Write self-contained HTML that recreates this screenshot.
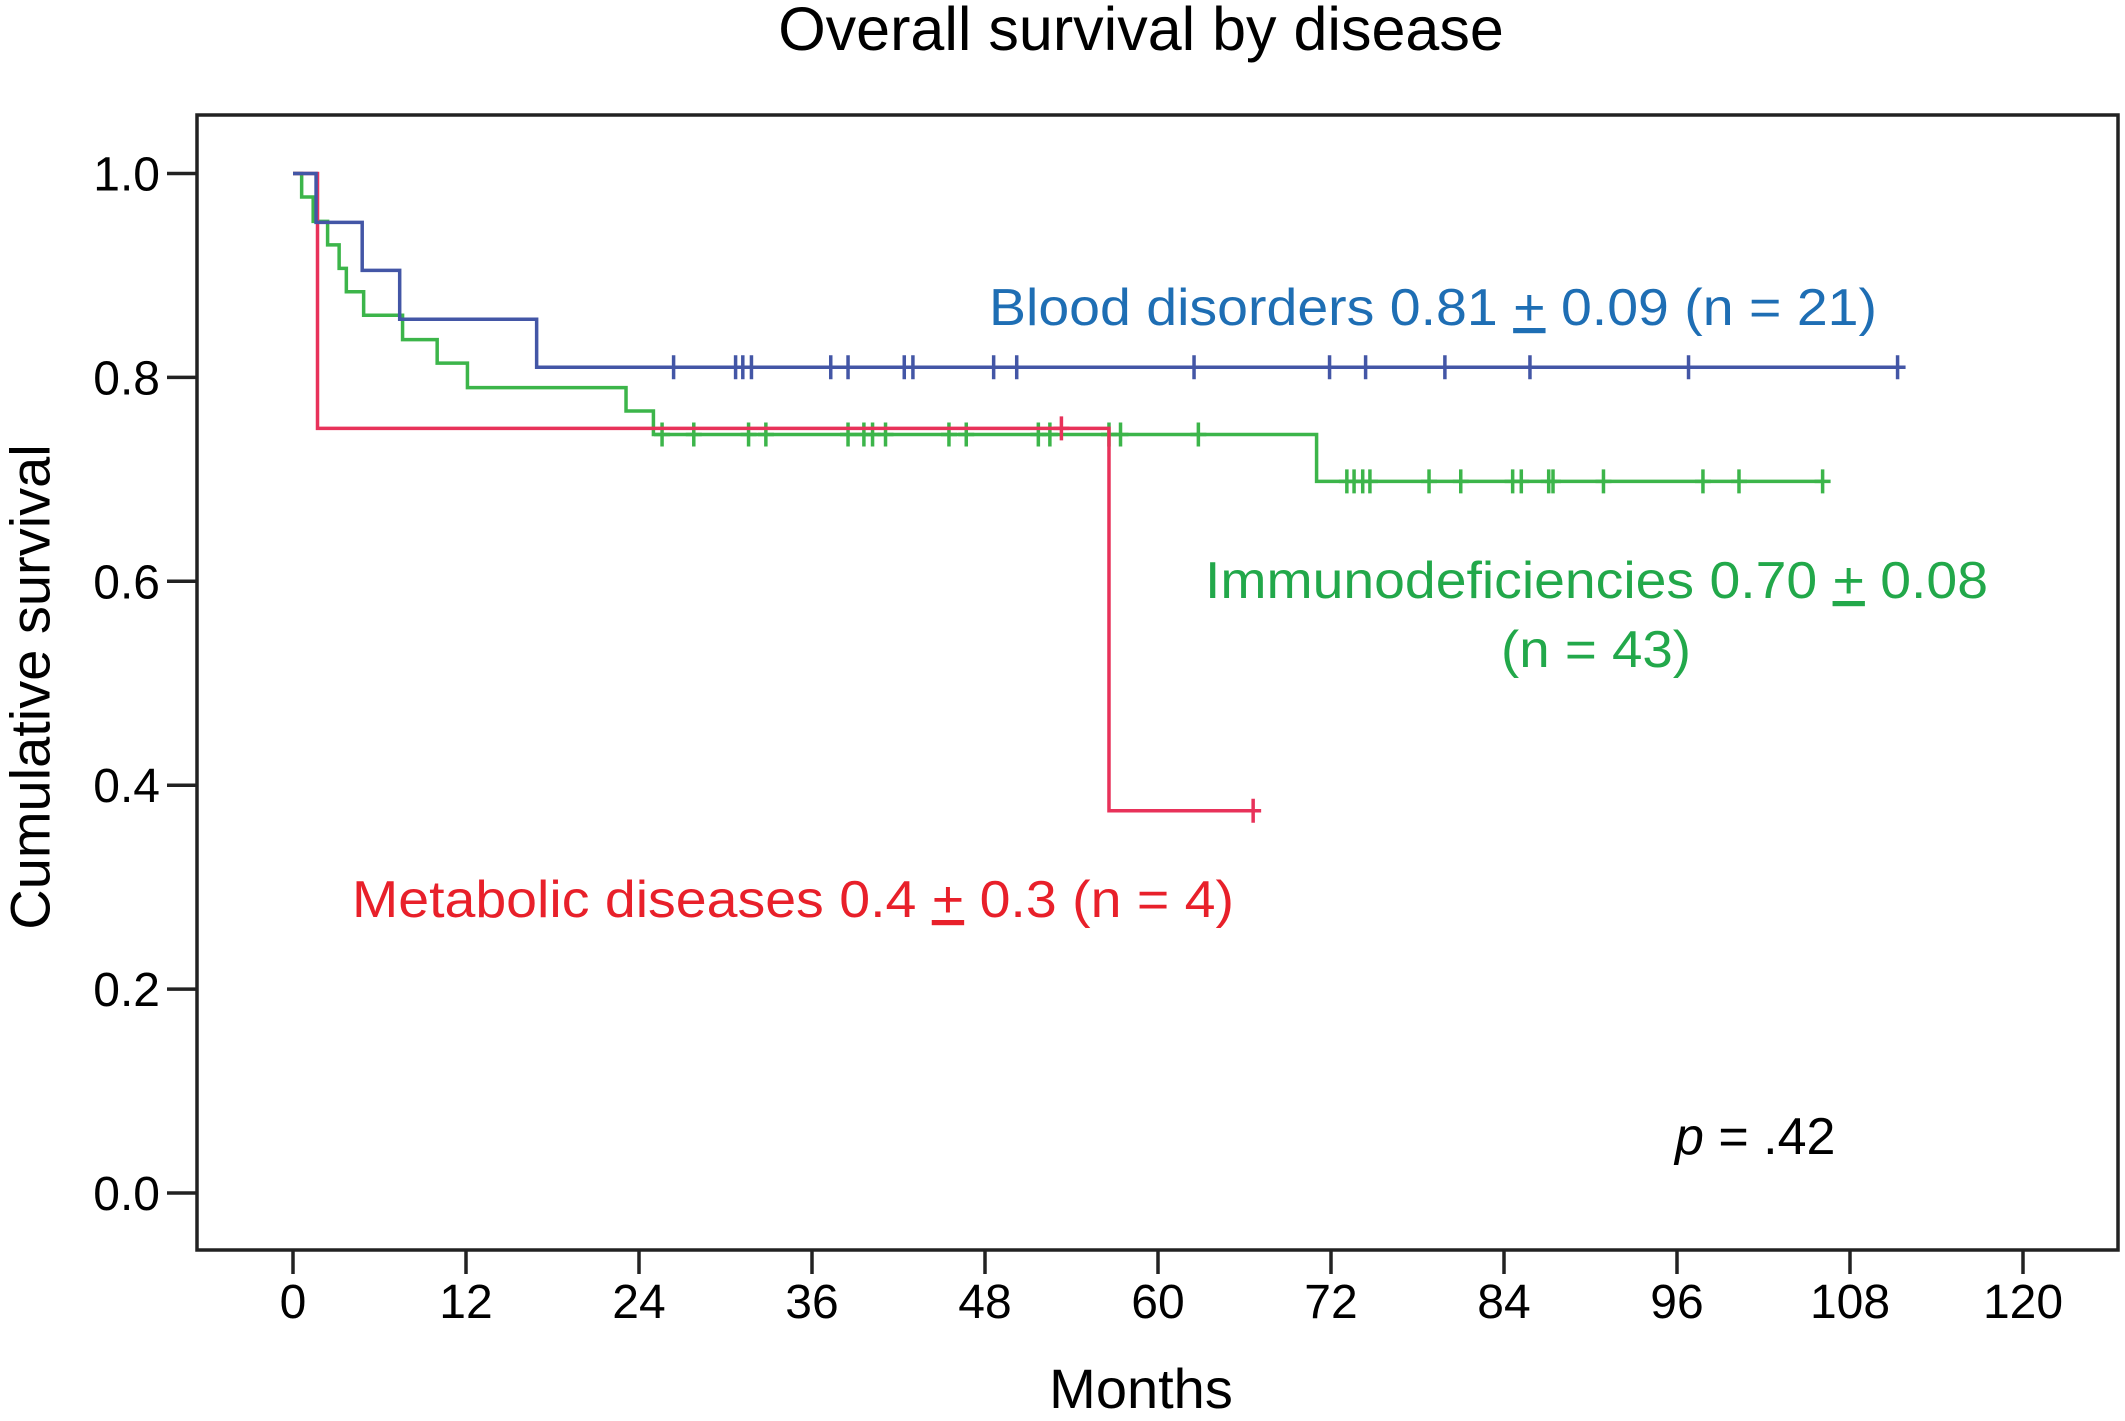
<!DOCTYPE html>
<html><head><meta charset="utf-8"><style>
body{margin:0;background:#fff}
svg{display:block;font-family:"Liberation Sans",sans-serif}
</style></head><body>
<svg id="chart" width="2125" height="1421" viewBox="0 0 2125 1421">
<text x="1141" y="50" font-size="61" text-anchor="middle">Overall survival by disease</text>
<rect x="197" y="115" width="1921" height="1135" fill="none" stroke="#222" stroke-width="3.5"/>
<g id="axes"></g>
<g id="curves"></g>
<text x="30" y="687" font-size="56" text-anchor="middle" transform="rotate(-90 30 687)" dominant-baseline="central">Cumulative survival</text>
<text x="1141" y="1408" font-size="56" text-anchor="middle">Months</text>
<text x="989" y="325" font-size="52" fill="#1e6eb4" textLength="888" lengthAdjust="spacingAndGlyphs">Blood disorders 0.81 <tspan text-decoration="underline">+</tspan> 0.09 (n = 21)</text>
<text x="1205" y="598" font-size="52" fill="#22a84a" textLength="783" lengthAdjust="spacingAndGlyphs">Immunodeficiencies 0.70 <tspan text-decoration="underline">+</tspan> 0.08</text>
<text x="1596" y="667" font-size="52" fill="#22a84a" text-anchor="middle" textLength="190" lengthAdjust="spacingAndGlyphs">(n = 43)</text>
<text x="352" y="917" font-size="52" fill="#e8202a" textLength="882" lengthAdjust="spacingAndGlyphs">Metabolic diseases 0.4 <tspan text-decoration="underline">+</tspan> 0.3 (n = 4)</text>
<text x="1675" y="1154" font-size="52"><tspan font-style="italic">p</tspan> = .42</text>
</svg>
<script>
const xTicks=[0,12,24,36,48,60,72,84,96,108,120];
const yTicks=[0,0.2,0.4,0.6,0.8,1.0];
const blueTimes=[0,1.6,4.8,7.4,16.9,111.3];
const blueSurv=[1,0.952,0.905,0.857,0.81,0.81];
const blueCensor=[26.4,30.7,31.2,31.8,37.3,38.5,42.4,43.0,48.6,50.2,62.5,71.9,74.4,79.9,85.8,96.8,111.3];
const greenTimes=[0,0.6,1.4,2.4,3.2,3.7,4.9,7.6,10,12.1,23.1,25,71.0,106.1];
const greenSurv=[1,0.977,0.953,0.93,0.907,0.884,0.861,0.837,0.814,0.79,0.767,0.744,0.698,0.698];
const greenCensor=[25.6,27.8,31.6,32.8,38.5,39.6,40.2,41.1,45.5,46.7,51.7,52.5,56.6,57.4,62.8,73.1,73.6,74.2,74.7,78.8,81.0,84.6,85.2,87.1,87.4,90.9,97.8,100.3,106.1];
const redTimes=[0,1.7,56.6,66.6];
const redSurv=[1,0.75,0.375,0.375];
const redCensor=[53.3,66.6];

const X=m=>293+m*(2023-293)/120;
const Y=v=>1193-v*(1193-173.5);
const NS='http://www.w3.org/2000/svg';
function mk(tag,attrs,parent){const e=document.createElementNS(NS,tag);for(const k in attrs)e.setAttribute(k,attrs[k]);parent.appendChild(e);return e;}
const axes=document.getElementById('axes');
xTicks.forEach(t=>{
  const l=mk('line',{x1:X(t),x2:X(t),y1:1250,y2:1274,stroke:'#222','stroke-width':3.5},axes);
  
  
  const tx=mk('text',{x:X(t),y:1318,'font-size':48,'text-anchor':'middle'},axes);
  tx.textContent=t;
  
  
});
yTicks.forEach(t=>{
  const l=mk('line',{x1:167,x2:197,y1:Y(t),y2:Y(t),stroke:'#222','stroke-width':3.5},axes);
  
  
  const tx=mk('text',{x:160,y:Y(t)+17,'font-size':48,'text-anchor':'end'},axes);
  tx.textContent=t.toFixed(1);
  
  
});
const curves=document.getElementById('curves');
function draw(times,surv,cens,color,name){
  let d='M'+X(times[0])+','+Y(surv[0]);
  for(let i=1;i<times.length;i++){d+=' H'+X(times[i])+' V'+Y(surv[i]);}
  const p=mk('path',{d:d,fill:'none',stroke:color,'stroke-width':3.5},curves);
  
  
  cens.forEach(c=>{
    let s=surv[0];
    for(let i=0;i<times.length;i++){if(times[i]<=c)s=surv[i];}
    const m=mk('path',{d:'M'+X(c)+','+(Y(s)-12)+' V'+(Y(s)+12)+' M'+(X(c)-8)+','+Y(s)+' H'+(X(c)+8),stroke:color,'stroke-width':3.5},curves);
    
    
  });
}
draw(greenTimes,greenSurv,greenCensor,'#3cb54a','immunodeficiencies');
draw(redTimes,redSurv,redCensor,'#e8325a','metabolic');
draw(blueTimes,blueSurv,blueCensor,'#4356a6','blood');
</script>
</body></html>
